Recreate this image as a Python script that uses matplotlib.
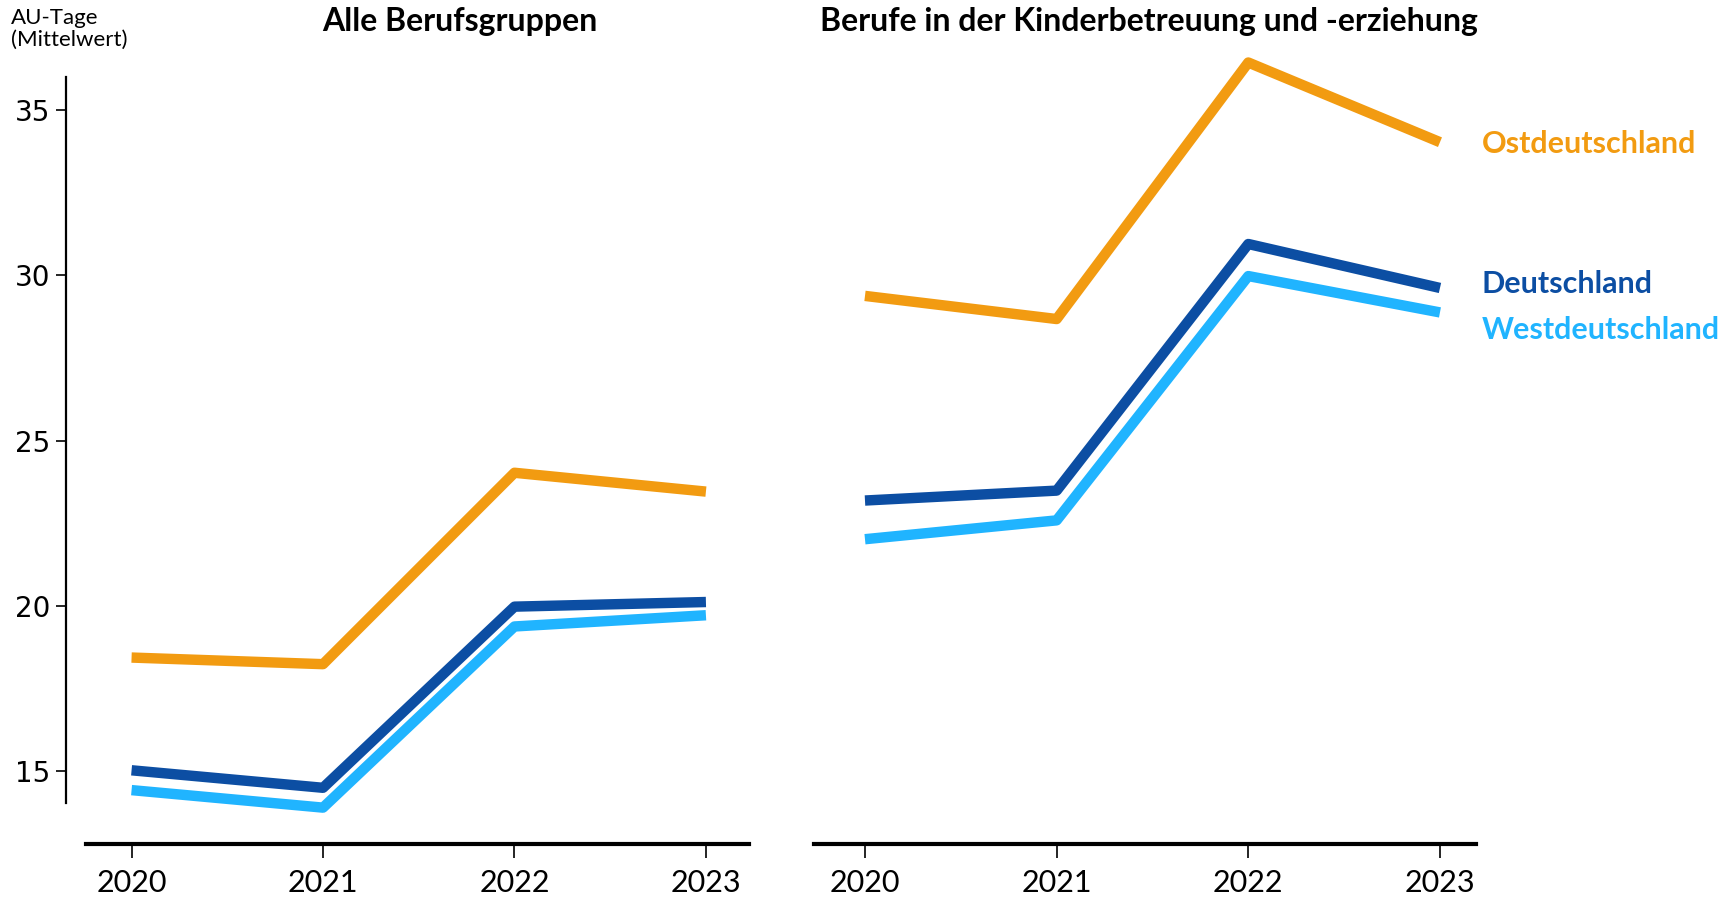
import matplotlib.pyplot as plt

# data
years = [2020, 2021, 2022, 2023]
regions = ['Ostdeutschland', 'Deutschland', 'Westdeutschland']
colors = {'Ostdeutschland': '#F29B11', 'Deutschland': '#0C4EA3', 'Westdeutschland': '#20B4FF'}

alle = {
    'Ostdeutschland': [18.44, 18.24, 24.03, 23.46],
    'Deutschland': [15.03, 14.50, 19.98, 20.12],
    'Westdeutschland': [14.43, 13.90, 19.38, 19.72],
}
kita = {
    'Ostdeutschland': [29.38, 28.68, 36.44, 34.03],
    'Deutschland': [23.19, 23.49, 30.95, 29.62],
    'Westdeutschland': [22.02, 22.59, 29.98, 28.88],
}
titles = ['Alle Berufsgruppen', 'Berufe in der Kinderbetreuung und -erziehung']
yticks = [15, 20, 25, 30, 35]

plt.rcParams['font.family'] = ['Lato', 'DejaVu Sans']

W, H = 1733, 898
fig = plt.figure(figsize=(W / 100, H / 100), dpi=100)

ax1 = fig.add_axes([86 / W, 1 - 844 / H, (749 - 86) / W, (844 - 44) / H])
ax2 = fig.add_axes([814 / W, 1 - 844 / H, (1476 - 814) / W, (844 - 44) / H])

for ax, data, xl in [(ax1, alle, (2019.762, 2023.225)), (ax2, kita, (2019.734, 2023.188))]:
    for r in regions:
        ax.plot(years, data[r], color=colors[r], lw=7.5, solid_capstyle='butt')
    ax.set_xlim(*xl)
    ax.set_ylim(12.8, 37.0)
    ax.set_xticks(years)
    ax.set_xticklabels([str(y) for y in years])
    ax.spines['top'].set_visible(False)
    ax.spines['right'].set_visible(False)
    ax.spines['bottom'].set_linewidth(3)
    ax.tick_params(axis='x', length=10, width=1.2, pad=8, labelsize=22)
    ax.patch.set_alpha(0)

ax1.spines['left'].set_position(('outward', 14.4))
ax1.spines['left'].set_bounds(14.03, 36.0)
ax1.spines['left'].set_linewidth(1.6)
ax1.set_yticks(yticks)
ax1.tick_params(axis='y', length=7, width=1.2, pad=4, labelsize=20)
for lab in ax1.get_yticklabels():
    lab.set_family('DejaVu Sans')

ax2.spines['left'].set_visible(False)
ax2.set_yticks([])

fig.text(460 / W, 1 - 22 / H, titles[0], ha='center', va='center', fontsize=23, fontweight='bold')
fig.text(1149 / W, 1 - 22 / H, titles[1], ha='center', va='center', fontsize=23, fontweight='bold')
fig.text(11 / W, 1 - 8 / H, 'AU-Tage\n(Mittelwert)', ha='left', va='top', fontsize=16, linespacing=1.1)

label_y = {'Ostdeutschland': 144, 'Deutschland': 284, 'Westdeutschland': 330}
for r in regions:
    fig.text(1482 / W, 1 - label_y[r] / H, r, ha='left', va='center', fontsize=22,
             fontweight='bold', color=colors[r])

fig.savefig('out.png', dpi=100)
